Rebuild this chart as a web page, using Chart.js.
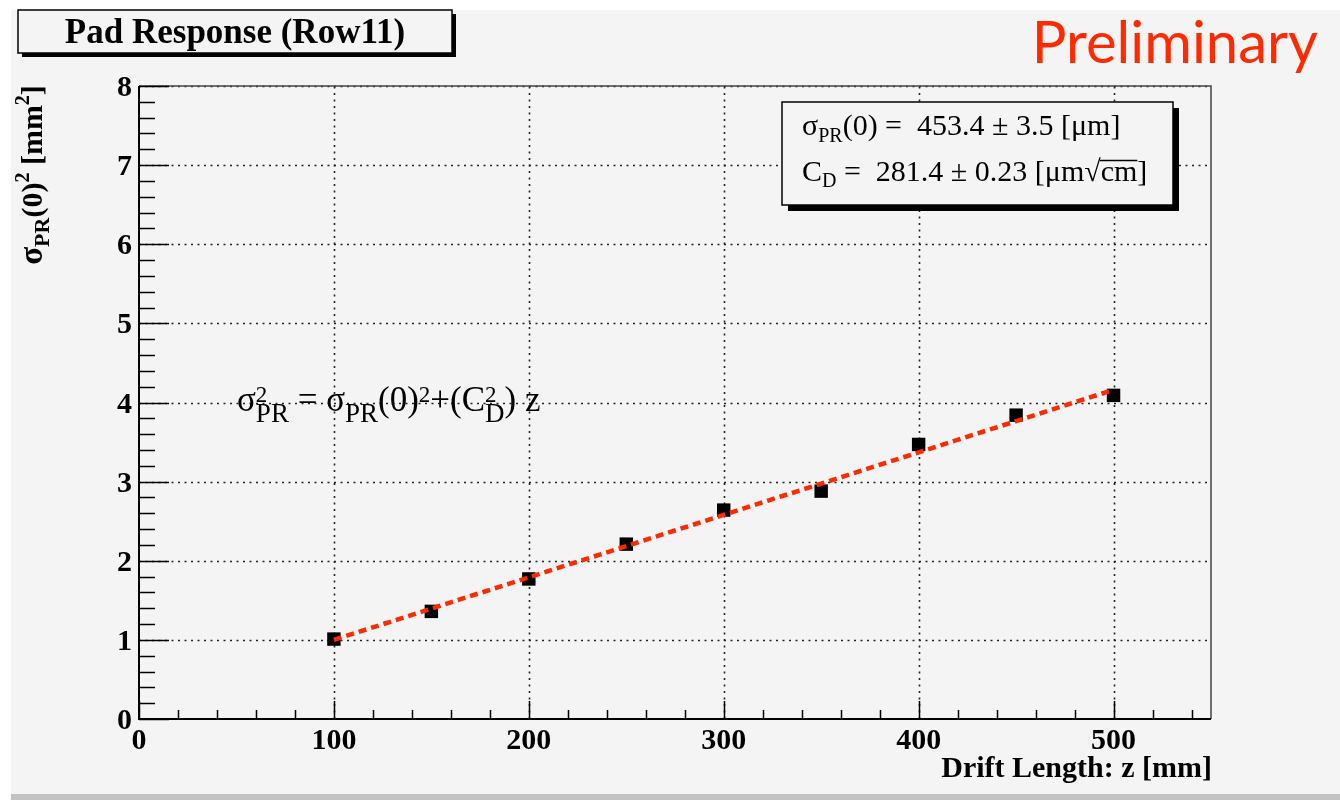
<!DOCTYPE html>
<html>
<head>
<meta charset="utf-8">
<script src="https://cdn.jsdelivr.net/npm/chart.js@4.4.1/dist/chart.umd.min.js"></script>
<style>
  html, body { margin: 0; padding: 0; background: #fff; }
  canvas { display: block; }
</style>
</head>
<body>
<canvas id="grafico" width="1340" height="800"></canvas>
<script>
// measured points: drift length z [mm] vs sigma_PR^2 [mm^2]
const driftLength = [100, 150, 200, 250, 300, 350, 400, 450, 500];
const sigmaSq = [1.01, 1.36, 1.77, 2.21, 2.64, 2.88, 3.47, 3.84, 4.09];

// straight-line fit, end points
const fitZ = [100, 500];
const fitSigmaSq = [1.0, 4.16];

const xTicks = [0, 100, 200, 300, 400, 500];
const yTicks = [0, 1, 2, 3, 4, 5, 6, 7, 8];

const serif = '"Liberation Serif", "Times New Roman", serif';
const bg = '#f4f4f4';
const fitRed = '#ff2a00';

// draws text runs one after another; a run with stack:true does not advance,
// so the next run sits under/over it (sup + sub on the same glyph)
function drawRich(ctx, x, y, parts, measureOnly) {
  let cx = x, pending = 0;
  for (const p of parts) {
    ctx.font = p.f;
    const w = ctx.measureText(p.t).width;
    if (!measureOnly) ctx.fillText(p.t, cx, y + (p.dy || 0));
    if (p.stack) { pending = Math.max(pending, w); continue; }
    cx += Math.max(w, pending);
    pending = 0;
  }
  return cx - x;
}

function shadowBox(ctx, x, y, w, h, off) {
  ctx.fillStyle = '#000';
  ctx.fillRect(x + off, y + off, w, h);
  ctx.fillStyle = bg;
  ctx.fillRect(x, y, w, h);
  ctx.strokeStyle = '#000';
  ctx.lineWidth = 1.5;
  ctx.strokeRect(x, y, w, h);
}

const rootStyle = {
  id: 'rootStyle',
  beforeDraw(chart) {
    const { ctx, chartArea: a, scales: { x, y } } = chart;
    ctx.save();
    ctx.fillStyle = '#fff';
    ctx.fillRect(0, 0, chart.width, chart.height);
    ctx.fillStyle = bg;
    ctx.fillRect(11, 10, chart.width - 11, 784);
    ctx.fillStyle = '#c2c2c2';
    ctx.fillRect(11, 794, chart.width - 11, 6);

    // dotted grid at the major ticks
    ctx.strokeStyle = '#222';
    ctx.lineWidth = 1.6;
    ctx.setLineDash([2, 4.5]);
    xTicks.forEach(v => {
      if (v === 0) return;
      const px = Math.round(x.getPixelForValue(v)) + 0.5;
      ctx.beginPath(); ctx.moveTo(px, a.bottom); ctx.lineTo(px, a.top); ctx.stroke();
    });
    yTicks.forEach(v => {
      if (v === 0) return;
      const py = Math.round(y.getPixelForValue(v)) + 0.5;
      ctx.beginPath(); ctx.moveTo(a.left, py); ctx.lineTo(a.right, py); ctx.stroke();
    });
    ctx.restore();
  },
  afterDraw(chart) {
    const { ctx, chartArea: a, scales: { x, y } } = chart;
    ctx.save();

    // frame
    ctx.strokeStyle = '#444';
    ctx.lineWidth = 1.5;
    ctx.beginPath();
    ctx.moveTo(a.left, a.top); ctx.lineTo(a.right, a.top); ctx.lineTo(a.right, a.bottom);
    ctx.stroke();
    ctx.strokeStyle = '#000';
    ctx.lineWidth = 2;
    ctx.beginPath();
    ctx.moveTo(a.left, a.top); ctx.lineTo(a.left, a.bottom); ctx.lineTo(a.right, a.bottom);
    ctx.stroke();

    // ticks, pointing into the frame
    ctx.lineWidth = 1.5;
    ctx.beginPath();
    for (let v = 0; v <= 540; v += 20) {
      const px = Math.round(x.getPixelForValue(v)) + 0.5;
      const len = v % 100 === 0 ? 18 : 9;
      ctx.moveTo(px, a.bottom); ctx.lineTo(px, a.bottom - len);
    }
    for (let i = 0; i <= 40; i++) {
      const py = Math.round(y.getPixelForValue(i / 5)) + 0.5;
      const len = i % 5 === 0 ? 30 : 16;
      ctx.moveTo(a.left, py); ctx.lineTo(a.left + len, py);
    }
    ctx.stroke();

    // tick labels
    ctx.fillStyle = '#000';
    ctx.font = `bold 30px ${serif}`;
    ctx.textBaseline = 'alphabetic';
    ctx.textAlign = 'right';
    yTicks.forEach(v => ctx.fillText(String(v), a.left - 7, y.getPixelForValue(v) + 10));
    ctx.textAlign = 'center';
    xTicks.forEach(v => ctx.fillText(String(v), x.getPixelForValue(v), a.bottom + 30));

    // x axis title
    ctx.textAlign = 'right';
    ctx.fillText('Drift Length: z [mm]', a.right + 1, 777);

    // y axis title, rotated
    ctx.textAlign = 'left';
    const bold = `bold 30px ${serif}`, boldSub = `bold 22px ${serif}`, boldSup = `bold 20px ${serif}`;
    const yTitle = [
      { t: 'σ', f: `bold 33px ${serif}` },
      { t: 'PR', f: boldSub, dy: 7 },
      { t: '(0)', f: bold },
      { t: '2', f: boldSup, dy: -13 },
      { t: ' [mm', f: bold },
      { t: '2', f: boldSup, dy: -13 },
      { t: ']', f: bold }
    ];
    const tw = drawRich(ctx, 0, 0, yTitle, true);
    ctx.save();
    ctx.translate(42, 175 + tw / 2);
    ctx.rotate(-Math.PI / 2);
    drawRich(ctx, 0, 0, yTitle);
    ctx.restore();

    // title box
    shadowBox(ctx, 18, 10, 434, 43, 4);
    ctx.fillStyle = '#000';
    ctx.font = `bold 35px ${serif}`;
    ctx.textAlign = 'center';
    ctx.fillText('Pad Response (Row11)', 235, 43);

    // fit result box
    shadowBox(ctx, 782, 102, 391, 103, 6);
    ctx.fillStyle = '#000';
    ctx.textAlign = 'left';
    const m = `30px ${serif}`, s = `20px ${serif}`;
    drawRich(ctx, 802, 135, [
      { t: 'σ', f: m }, { t: 'PR', f: s, dy: 7 }, { t: '(0) =  453.4 ± 3.5 [μm]', f: m }
    ]);
    let cx = 802 + drawRich(ctx, 802, 181, [
      { t: 'C', f: m }, { t: 'D', f: s, dy: 6 }, { t: ' =  281.4 ± 0.23 [μm√', f: m }
    ]);
    ctx.font = m;
    const cmW = ctx.measureText('cm').width;
    ctx.fillText('cm', cx, 181);
    ctx.fillText(']', cx + cmW, 181);
    ctx.lineWidth = 1.3;
    ctx.beginPath();
    ctx.moveTo(cx - 1, 160.5); ctx.lineTo(cx + cmW, 160.5);
    ctx.stroke();

    // fit function
    const fm = `35px ${serif}`, fsub = `27px ${serif}`, fsup = `23px ${serif}`;
    drawRich(ctx, 237, 411, [
      { t: 'σ', f: fm },
      { t: '2', f: fsup, dy: -9, stack: true },
      { t: 'PR', f: fsub, dy: 11 },
      { t: ' = ', f: fm },
      { t: 'σ', f: fm },
      { t: 'PR', f: fsub, dy: 11 },
      { t: '(0)', f: fm },
      { t: '2', f: fsup, dy: -9 },
      { t: '+(C', f: fm },
      { t: '2', f: fsup, dy: -9, stack: true },
      { t: 'D', f: fsub, dy: 11 },
      { t: ') z', f: fm }
    ]);

    // stamp
    ctx.fillStyle = fitRed;
    ctx.font = '58px Lato, "Noto Sans", sans-serif';
    ctx.textAlign = 'right';
    ctx.fillText('Preliminary', 1318, 63);

    ctx.restore();
  }
};

new Chart(document.getElementById('grafico'), {
  type: 'scatter',
  data: {
    datasets: [
      {
        label: 'fit',
        data: fitZ.map((z, i) => ({ x: z, y: fitSigmaSq[i] })),
        showLine: true,
        borderColor: fitRed,
        borderWidth: 4.5,
        borderDash: [8, 5],
        pointRadius: 0,
        fill: false
      },
      {
        label: 'Row11',
        data: driftLength.map((z, i) => ({ x: z, y: sigmaSq[i] })),
        pointStyle: 'rect',
        pointRadius: 9.5,
        backgroundColor: '#000',
        borderWidth: 0
      }
    ]
  },
  options: {
    responsive: false,
    animation: false,
    layout: { padding: { left: 139, right: 129, top: 86, bottom: 81 } },
    plugins: { legend: { display: false }, tooltip: { enabled: false } },
    scales: {
      x: { type: 'linear', min: 0, max: 550, display: false },
      y: { type: 'linear', min: 0, max: 8, display: false }
    }
  },
  plugins: [rootStyle]
});
</script>
</body>
</html>
